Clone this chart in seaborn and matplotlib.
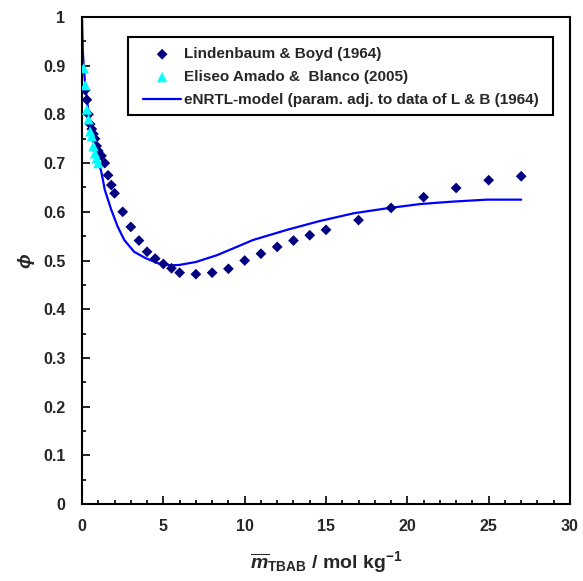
import matplotlib
matplotlib.use("Agg")
import matplotlib.pyplot as plt
import seaborn as sns
import numpy as np
import pandas as pd
from matplotlib.ticker import MultipleLocator
from matplotlib.patches import Rectangle

# Data: Lindenbaum & Boyd (1964)
lb_m = [0.2, 0.3, 0.4, 0.5, 0.6, 0.7, 0.8, 0.9, 1.0, 1.2, 1.4, 1.6, 1.8, 2.0, 2.5,
        3.0, 3.5, 4.0, 4.5, 5.0, 5.5, 6.0, 7, 8, 9, 10, 11, 12, 13, 14, 15,
        17, 19, 21, 23, 25, 27]
lb_phi = [0.85, 0.83, 0.80, 0.78, 0.77, 0.76, 0.75, 0.735, 0.725, 0.715, 0.70, 0.675,
          0.655, 0.638, 0.60, 0.569, 0.541, 0.518, 0.504, 0.493, 0.484, 0.475, 0.472,
          0.475, 0.483, 0.50, 0.514, 0.528, 0.541, 0.552, 0.563, 0.583, 0.608, 0.63,
          0.649, 0.665, 0.673]

# Data: Eliseo Amado & Blanco (2005)
ea_m = [0.1, 0.2, 0.3, 0.4, 0.5, 0.6, 0.7, 0.8, 0.9, 1.0]
ea_phi = [0.895, 0.86, 0.81, 0.79, 0.765, 0.755, 0.735, 0.72, 0.71, 0.70]

# eNRTL model curve
md_m = [0.0005, 0.05, 0.1, 0.2, 0.3, 0.5, 0.7, 1.0, 1.2, 1.4, 1.8, 2.2, 2.6, 3.2, 3.9,
        4.7, 5.5, 6.0, 7.0, 8.3, 9.3, 10.5, 12.6, 14.6, 16.7, 18.7, 20.8, 22.8, 24.9, 27]
md_phi = [0.995, 0.93, 0.90, 0.86, 0.83, 0.78, 0.745, 0.705, 0.68, 0.645, 0.604, 0.569,
          0.542, 0.518, 0.505, 0.494, 0.49, 0.491, 0.497, 0.511, 0.525, 0.542, 0.563,
          0.581, 0.597, 0.607, 0.616, 0.621, 0.625, 0.625]

labels = ["Lindenbaum & Boyd (1964)",
          "Eliseo Amado &  Blanco (2005)",
          "eNRTL-model (param. adj. to data of L & B (1964)"]

sns.set_theme(style="white")
plt.rcParams['font.family'] = ['Liberation Sans', 'DejaVu Sans']
plt.rcParams['mathtext.fontset'] = 'custom'
plt.rcParams['mathtext.rm'] = 'Liberation Sans:bold'
plt.rcParams['mathtext.it'] = 'Liberation Sans:bold:italic'
plt.rcParams['mathtext.bf'] = 'Liberation Sans:bold'

fig = plt.figure(figsize=(5.83, 5.81), dpi=100)
ax = fig.add_axes([0.1407, 0.1325, 0.8370, 0.8382])

df_lb = pd.DataFrame({"m": lb_m, "phi": lb_phi})
df_ea = pd.DataFrame({"m": ea_m, "phi": ea_phi})
df_md = pd.DataFrame({"m": md_m, "phi": md_phi})

sns.lineplot(data=df_md, x="m", y="phi", ax=ax, color="#0000FF", linewidth=1.6,
             label=labels[2], zorder=2, sort=False)
sns.scatterplot(data=df_lb, x="m", y="phi", ax=ax, marker="D", s=30, color="#000080",
                edgecolor="none", label=labels[0], zorder=3)
sns.scatterplot(data=df_ea, x="m", y="phi", ax=ax, marker="^", s=55, color="#00FFFF",
                edgecolor="none", label=labels[1], zorder=4)

ax.set_xlim(0, 30)
ax.set_ylim(0, 1)
ax.xaxis.set_major_locator(MultipleLocator(5))
ax.xaxis.set_minor_locator(MultipleLocator(1))
ax.yaxis.set_major_locator(MultipleLocator(0.1))
ax.yaxis.set_minor_locator(MultipleLocator(0.05))
ax.set_xticklabels([f"{int(v)}" for v in ax.get_xticks()])
ax.set_yticklabels([("0" if v == 0 else ("1" if abs(v-1) < 1e-9 else f"{v:.1f}")) for v in ax.get_yticks()])
ax.tick_params(axis="both", which="both", direction="in", top=False, right=False,
               bottom=True, left=True, color="black")
ax.tick_params(axis="both", which="major", length=6, width=1.2, labelsize=11.5)
ax.tick_params(axis="x", which="major", pad=11)
ax.tick_params(axis="y", which="major", pad=12)
ax.tick_params(axis="both", which="minor", length=3, width=1.2)
for lab in ax.get_xticklabels() + ax.get_yticklabels():
    lab.set_fontweight("bold")
for sp in ax.spines.values():
    sp.set_color("black")
    sp.set_linewidth(1.5)

ax.set_xlabel(r"$\overline{m}_{\mathrm{TBAB}}$ / mol kg$^{\mathrm{-1}}$", fontsize=14,
              fontweight="bold", labelpad=11)
ax.set_ylabel(r"$\phi$", fontsize=14, labelpad=4)

# legend frame box (drawn separately to match padding)
ax.add_patch(Rectangle((0.0943, 0.799), 0.965 - 0.0943, 0.959 - 0.799,
                       transform=ax.transAxes, facecolor="white", edgecolor="black",
                       linewidth=1.5, zorder=5))

handles, labs = ax.get_legend_handles_labels()
order = [labs.index(l) for l in labels]
leg = ax.legend([handles[i] for i in order], [labs[i] for i in order],
                loc="upper left", bbox_to_anchor=(0.125, 0.938), frameon=False,
                borderaxespad=0, borderpad=0,
                prop={"weight": "bold", "size": 11}, handlelength=2.5,
                labelspacing=0.58, handletextpad=0.15)
leg.set_zorder(6)

fig.savefig("out.png", dpi=100)
